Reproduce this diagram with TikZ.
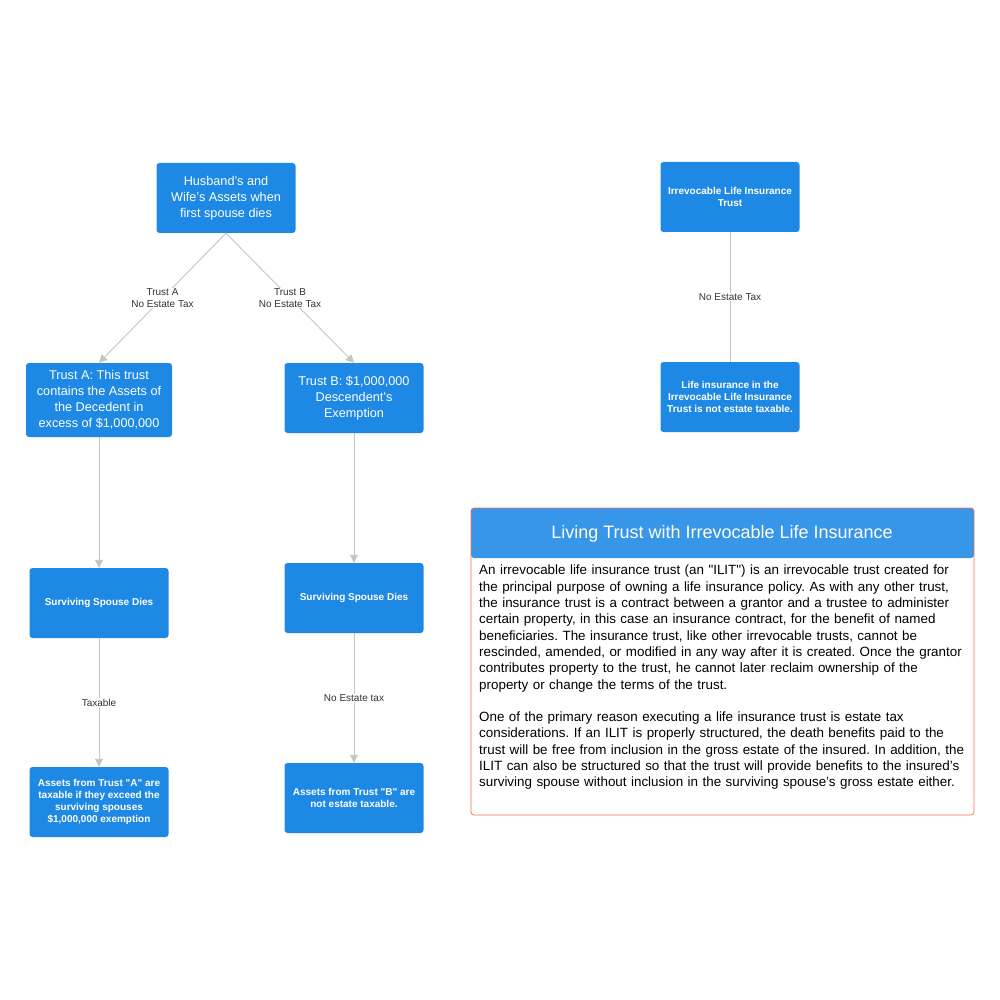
\documentclass[tikz,border=0pt]{standalone}
\usepackage{fontspec}
\setmainfont{Liberation Sans}[HyphenChar=None]
\usetikzlibrary{arrows.meta}
\definecolor{nb}{HTML}{1E88E5}
\definecolor{hb}{HTML}{3796E8}
\definecolor{ln}{HTML}{C4C4C4}
\definecolor{bd}{HTML}{F0704A}
\frenchspacing
\begin{document}
\begin{tikzpicture}[x=1pt,y=-1pt,
 box/.style={fill=nb,rounded corners=3pt,minimum width=139pt,minimum height=70pt,text=white,align=flush center,inner sep=1pt},
 big/.style={box,font=\fontsize{12.7}{16}\selectfont,text width=135pt},
 sm/.style={box,font=\fontsize{10}{12.2}\selectfont\bfseries,text width=134pt},
 conn/.style={draw=ln,line width=0.9pt},
 arr/.style={conn,-{Triangle[length=8pt,width=8pt]}},
 lab/.style={fill=white,font=\fontsize{10}{12}\selectfont,text=black!80,align=center,inner sep=1pt}]
\useasboundingbox (0,0) rectangle (1000,1000);
\node[big,text width=116pt] (top) at (226,198) {Husband's and Wife's Assets when first spouse dies};
\node[big,minimum width=146pt,minimum height=74pt,text width=128pt] (ta) at (99,400) {Trust A: This trust contains the Assets of the Decedent in excess of \$1,000,000};
\node[big] (tb) at (354,398) {Trust B: \$1,000,000 Descendent's Exemption};
\node[sm] (s1) at (99,603) {Surviving Spouse Dies};
\node[sm] (s2) at (354,598) {Surviving Spouse Dies};
\node[sm,text width=126pt] (aa) at (99,802) {Assets from Trust \textquotedbl A\textquotedbl{} are taxable if they exceed the surviving spouses \$1,000,000 exemption};
\node[sm,text width=126pt] (ab) at (354,798) {Assets from Trust \textquotedbl B\textquotedbl{} are not estate taxable.};
\node[sm] (il) at (730,197) {Irrevocable Life Insurance Trust};
\node[sm] (li) at (730,397) {Life insurance in the Irrevocable Life Insurance Trust is not estate taxable.};
\draw[arr] (top.south) -- node[lab,pos=0.5] {Trust A\\No Estate Tax} (ta.north);
\draw[arr] (top.south) -- node[lab,pos=0.5] {Trust B\\No Estate Tax} (tb.north);
\draw[arr] (ta) -- (s1);
\draw[arr] (tb) -- (s2);
\draw[arr] (s1) -- node[lab] {Taxable} (aa);
\draw[arr] (s2) -- node[lab] {No Estate tax} (ab);
\draw[conn] (il) -- node[lab] {No Estate Tax} (li);
\coordinate (bl) at (471,815); \coordinate (tr) at (974,508);
\fill[hb,rounded corners=3pt] (471,558) -- (471,508) -- (974,508) -- (974,558) -- cycle;
\draw[bd,line width=0.7pt,rounded corners=3pt] (bl) rectangle (tr);
\node[text=white,font=\fontsize{18}{22}\selectfont] (hd) at (722,534) {Living Trust with Irrevocable Life Insurance};
\node[anchor=north west,text width=490pt,font=\fontsize{13.4}{16.3}\selectfont,inner sep=0pt] (body) at (479,565) {\raggedright An irrevocable life insurance trust (an \textquotedbl ILIT\textquotedbl) is an irrevocable trust created for the principal purpose of owning a life insurance policy. As with any other trust, the insurance trust is a contract between a grantor and a trustee to administer certain property, in this case an insurance contract, for the benefit of named beneficiaries. The insurance trust, like other irrevocable trusts, cannot be rescinded, amended, or modified in any way after it is created. Once the grantor contributes property to the trust, he cannot later reclaim ownership of the property or change the terms of the trust.\par\vspace{16.3pt}One of the primary reason executing a life insurance trust is estate tax considerations. If an ILIT is properly structured, the death benefits paid to the trust will be free from inclusion in the gross estate of the insured. In addition, the ILIT can also be structured so that the trust will provide benefits to the insured's surviving spouse without inclusion in the surviving spouse's gross estate either.\par};
\end{tikzpicture}
\end{document}
